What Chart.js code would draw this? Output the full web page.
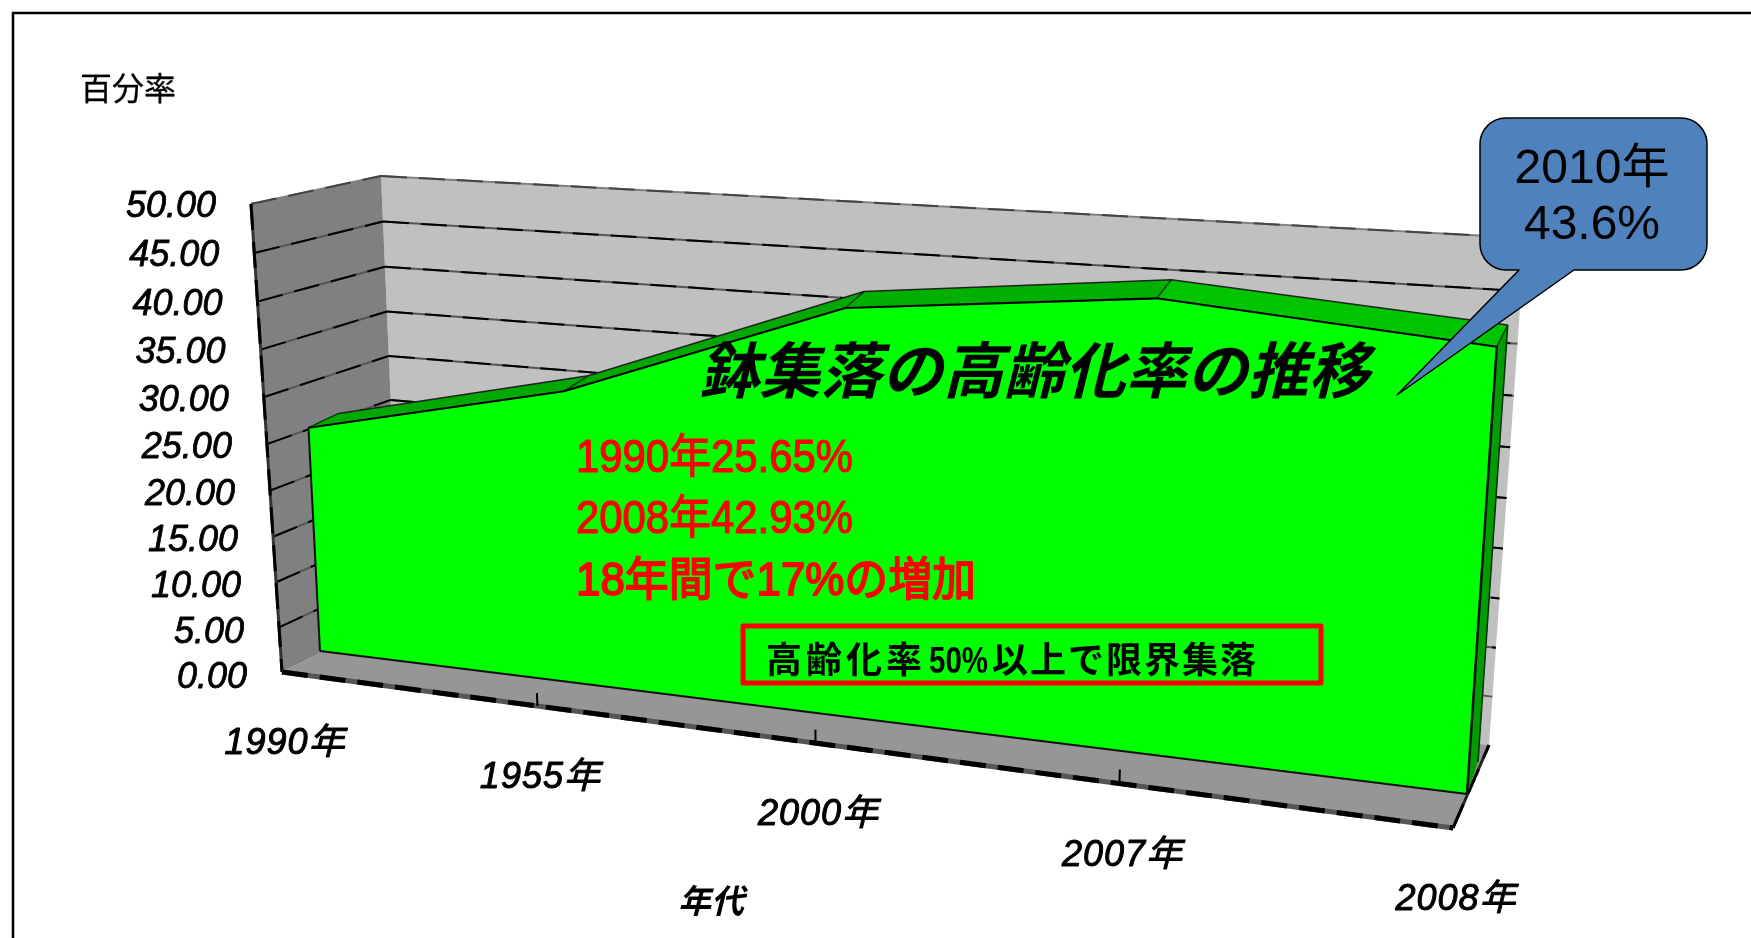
<!DOCTYPE html>
<html lang="ja">
<head>
<meta charset="utf-8">
<title>鉢集落の高齢化率の推移</title>
<script src="https://cdn.jsdelivr.net/npm/chart.js@4/dist/chart.umd.min.js"></script>
<style>
    html, body { margin: 0; padding: 0; background: #fff; overflow: hidden; }
    canvas { display: block; }
</style>
</head>
<body>
<canvas id="myChart" width="1751" height="938"></canvas>
<script>
const categories = ['1990年', '1955年', '2000年', '2007年', '2008年'];
const agingRate = [25.65, 32.0, 42.7, 45.5, 42.93];
const baseline = [0, 0, 0, 0, 0];
const yTicks = ['0.00', '5.00', '10.00', '15.00', '20.00', '25.00', '30.00', '35.00', '40.00', '45.00', '50.00'];

const summaryLines = ['1990年25.65%', '2008年42.93%', '18年間で17%の増加'];
const titleText = '鉢集落の高齢化率の推移';
const noteParts = ['高齢化率', '50%', '以上で限界集落'];
const calloutLines = ['2010年', '43.6%'];

const LATIN_JP = '"Liberation Sans", "Noto Sans CJK JP", sans-serif';

// corners of each plane on the page: bottom-left, bottom-right, top-right, top-left
const planes = {
    wallFront: makePlane([[282, 672], [1453, 828], [1492, 273], [251, 204]]),
    wallBack: makePlane([[400, 614], [1489, 745], [1525, 238], [381, 176]]),
    areaFront: makePlane([[320, 651], [1467, 794], [1502, 269], [297, 206]]),
    areaBack: makePlane([[356, 631], [1478, 762], [1513, 248], [321, 195]])
};

// unit square to quad perspective transform
function makePlane(q) {
    const [[x0, y0], [x1, y1], [x2, y2], [x3, y3]] = q;
    const dx1 = x1 - x2, dx2 = x3 - x2, sx = x0 - x1 + x2 - x3;
    const dy1 = y1 - y2, dy2 = y3 - y2, sy = y0 - y1 + y2 - y3;
    const den = dx1 * dy2 - dx2 * dy1;
    const g = (sx * dy2 - dx2 * sy) / den;
    const h = (dx1 * sy - sx * dy1) / den;
    const a = x1 - x0 + g * x1, b = x3 - x0 + h * x3;
    const d = y1 - y0 + g * y1, e = y3 - y0 + h * y3;
    return (u, v) => {
        const w = g * u + h * v + 1;
        return [(a * u + b * v + x0) / w, (d * u + e * v + y0) / w];
    };
}

// scale pixel -> position on the tilted plane
function projectPixel(chart, plane, px, py) {
    const area = chart.chartArea;
    return planes[plane]((px - area.left) / area.width, (area.bottom - py) / area.height);
}

function at(chart, plane, index, value) {
    return projectPixel(chart, plane, chart.scales.x.getPixelForValue(index), chart.scales.y.getPixelForValue(value));
}

function polygon(ctx, points, color) {
    ctx.beginPath();
    points.forEach((p, i) => i ? ctx.lineTo(p[0], p[1]) : ctx.moveTo(p[0], p[1]));
    ctx.closePath();
    ctx.fillStyle = color;
    ctx.fill();
}

function segment(ctx, a, b, color, width) {
    ctx.strokeStyle = color;
    ctx.lineWidth = width;
    ctx.beginPath();
    ctx.moveTo(a[0], a[1]);
    ctx.lineTo(b[0], b[1]);
    ctx.stroke();
}

// dark line with the grey broken edge the walls have
function roughLine(ctx, a, b, width, under, over) {
    ctx.save();
    segment(ctx, a, b, under, width);
    ctx.setLineDash([26, 12]);
    segment(ctx, a, b, over || '#000', width);
    ctx.restore();
}

function drawWalls(chart) {
    const ctx = chart.ctx;
    const last = categories.length - 1;
    const top = 50;

    polygon(ctx, [at(chart, 'wallBack', 0, 0), at(chart, 'wallBack', last, 0), at(chart, 'wallBack', last, top), at(chart, 'wallBack', 0, top)], '#c0c0c0');
    polygon(ctx, [at(chart, 'wallFront', 0, 0), at(chart, 'wallBack', 0, 0), at(chart, 'wallBack', 0, top), at(chart, 'wallFront', 0, top)], '#808080');
    polygon(ctx, [at(chart, 'wallFront', 0, 0), at(chart, 'wallFront', last, 0), at(chart, 'wallBack', last, 0), at(chart, 'wallBack', 0, 0)], '#969696');

    chart.scales.y.ticks.forEach(tick => {
        if (tick.value === 0) return;
        const under = tick.value === top ? '#808080' : '#555';
        const over = tick.value === top ? '#444' : '#000';
        roughLine(ctx, at(chart, 'wallFront', 0, tick.value), at(chart, 'wallBack', 0, tick.value), 2, under, over);
        roughLine(ctx, at(chart, 'wallBack', 0, tick.value), at(chart, 'wallBack', last, tick.value), 2, under, over);
    });

    // outer edges of the left wall and the floor
    roughLine(ctx, at(chart, 'wallFront', 0, top), at(chart, 'wallFront', 0, 0), 3, '#333');
    roughLine(ctx, at(chart, 'wallFront', 0, 0), at(chart, 'wallFront', last, 0), 5, '#555');
    roughLine(ctx, at(chart, 'wallFront', last, 0), at(chart, 'wallBack', last, 0), 3, '#222');

    // category ticks on the floor edge
    for (let i = 1; i < last; i++) {
        segment(ctx, at(chart, 'wallFront', i, 0), at(chart, 'wallFront', i, 1.4), '#000', 2);
    }
}

function drawAreaFaces(chart) {
    const ctx = chart.ctx;
    const frontTop = chart.getDatasetMeta(0).data.map(p => [p.x, p.y]);
    const backTop = chart.getDatasetMeta(1).data.map(p => [p.x, p.y]);
    const frontBase = chart.getDatasetMeta(2).data.map(p => [p.x, p.y]);
    const backBase = chart.getDatasetMeta(3).data.map(p => [p.x, p.y]);
    const last = frontTop.length - 1;

    // right end of the area
    polygon(ctx, [frontTop[last], backTop[last], backBase[last], frontBase[last]], '#009c00');
    segment(ctx, backTop[last], backBase[last], '#003000', 1.5);

    // sloped top, one facet per category step
    const topColors = ['#00a800', '#00a800', '#00b000', '#00c400'];
    for (let i = 0; i < last; i++) {
        polygon(ctx, [frontTop[i], frontTop[i + 1], backTop[i + 1], backTop[i]], topColors[i]);
    }
    for (let i = 0; i <= last; i++) {
        segment(ctx, frontTop[i], backTop[i], '#004400', 1.5);
    }

    // front face and its end edges
    polygon(ctx, frontTop.concat(frontBase.slice().reverse()), '#00ff00');
    segment(ctx, frontTop[0], frontBase[0], '#111', 2);
    segment(ctx, frontTop[last], frontBase[last], '#111', 2.5);
}

function label(ctx, text, x, y, opts) {
    const maxWidth = opts.maxWidth === undefined ? 100000 : opts.maxWidth;
    ctx.font = opts.font;
    ctx.fillStyle = opts.color || '#000';
    ctx.textAlign = opts.align || 'center';
    ctx.textBaseline = 'middle';
    ctx.letterSpacing = (opts.spacing || 0) + 'px';
    ctx.fillText(text, x, y, maxWidth);
    if (opts.stroke) {
        ctx.strokeStyle = ctx.fillStyle;
        ctx.lineWidth = opts.stroke;
        ctx.lineJoin = 'round';
        ctx.strokeText(text, x, y, maxWidth);
    }
    ctx.letterSpacing = '0px';
}

function drawCallout(ctx) {
    ctx.beginPath();
    ctx.moveTo(1506, 118);
    ctx.lineTo(1681, 118);
    ctx.arcTo(1707, 118, 1707, 144, 26);
    ctx.lineTo(1707, 244);
    ctx.arcTo(1707, 270, 1681, 270, 26);
    ctx.lineTo(1574, 270);
    ctx.lineTo(1397, 395);
    ctx.lineTo(1519, 270);
    ctx.lineTo(1506, 270);
    ctx.arcTo(1480, 270, 1480, 244, 26);
    ctx.lineTo(1480, 144);
    ctx.arcTo(1480, 118, 1506, 118, 26);
    ctx.closePath();
    ctx.fillStyle = '#4f81bd';
    ctx.fill();
    ctx.strokeStyle = '#000';
    ctx.lineWidth = 1.5;
    ctx.stroke();
    label(ctx, calloutLines[0], 1592, 170, { font: '48px ' + LATIN_JP });
    label(ctx, calloutLines[1], 1592, 226, { font: '48px ' + LATIN_JP });
}

function drawLabels(chart) {
    const ctx = chart.ctx;

    chart.scales.y.ticks.forEach(tick => {
        const p = at(chart, 'wallFront', 0, tick.value);
        label(ctx, tick.label, p[0] - 35, p[1] + 5.5 - tick.value / 20, { font: 'italic 36px ' + LATIN_JP, align: 'right', stroke: 0.8 });
    });
    categories.forEach((name, i) => {
        const p = at(chart, 'wallFront', i, 0);
        label(ctx, name, p[0] + 3, p[1] + 72, { font: 'italic 36px ' + LATIN_JP, spacing: 1, stroke: 1 });
    });

    label(ctx, '百分率', 128, 91, { font: '32px ' + LATIN_JP, stroke: 0.3 });
    label(ctx, '年代', 711, 904, { font: 'italic bold 33px ' + LATIN_JP });
    label(ctx, titleText, 1034, 376, { font: 'italic bold 61px ' + LATIN_JP, maxWidth: 680 });

    summaryLines.forEach((line, i) => {
        label(ctx, line, 576, [459, 520, 582][i], {
            font: '46px ' + LATIN_JP,
            color: '#ff0000',
            align: 'left',
            maxWidth: i === 2 ? 400 : 277,
            stroke: i === 2 ? 1.8 : 1.2
        });
    });

    ctx.strokeStyle = '#ff0000';
    ctx.lineWidth = 5;
    ctx.strokeRect(743, 626, 578, 57);
    const noteFont = 'bold 36px ' + LATIN_JP;
    label(ctx, noteParts[0], 766, 663, { font: noteFont, align: 'left', spacing: 4 });
    label(ctx, noteParts[1], 929, 663, { font: noteFont, align: 'left', maxWidth: 59 });
    label(ctx, noteParts[2], 992, 663, { font: noteFont, align: 'left', spacing: 2 });

    drawCallout(ctx);
}

const perspective = {
    id: 'perspective',
    afterDatasetsUpdate(chart) {
        chart.data.datasets.forEach((ds, i) => {
            chart.getDatasetMeta(i).data.forEach(pt => {
                const p = projectPixel(chart, ds.plane, pt.x, pt.y);
                pt.x = p[0];
                pt.y = p[1];
            });
        });
    },
    beforeDatasetsDraw(chart) {
        const ctx = chart.ctx;
        ctx.save();
        // outer frame, runs off the right and bottom of the page
        ctx.strokeStyle = '#000';
        ctx.lineWidth = 2.5;
        ctx.beginPath();
        ctx.moveTo(13, 938);
        ctx.lineTo(13, 13);
        ctx.lineTo(1751, 13);
        ctx.stroke();
        drawWalls(chart);
        drawAreaFaces(chart);
        ctx.restore();
    },
    afterDatasetsDraw(chart) {
        chart.ctx.save();
        drawLabels(chart);
        chart.ctx.restore();
    }
};

function buildChart() {
    const ctx = document.getElementById('myChart');

    new Chart(ctx, {
        type: 'line',
        data: {
            labels: categories,
            datasets: [
                { label: '高齢化率', data: agingRate, plane: 'areaFront', borderColor: '#000', borderWidth: 2 },
                { label: '高齢化率 奥', data: agingRate, plane: 'areaBack', borderColor: '#222', borderWidth: 1.5 },
                { label: '基線', data: baseline, plane: 'areaFront', borderColor: '#111', borderWidth: 2 },
                { label: '基線 奥', data: baseline, plane: 'areaBack', borderWidth: 0, showLine: false }
            ]
        },
        options: {
            responsive: false,
            animation: false,
            devicePixelRatio: 1,
            events: [],
            elements: { point: { radius: 0 }, line: { tension: 0 } },
            layout: { padding: 0 },
            plugins: { legend: { display: false }, title: { display: false }, tooltip: { enabled: false } },
            scales: {
                x: { display: false },
                y: {
                    display: false,
                    min: 0,
                    max: 50,
                    ticks: { stepSize: 5, callback: (v) => yTicks[v / 5] }
                }
            }
        },
        plugins: [perspective]
    });
}

buildChart();
</script>
</body>
</html>
